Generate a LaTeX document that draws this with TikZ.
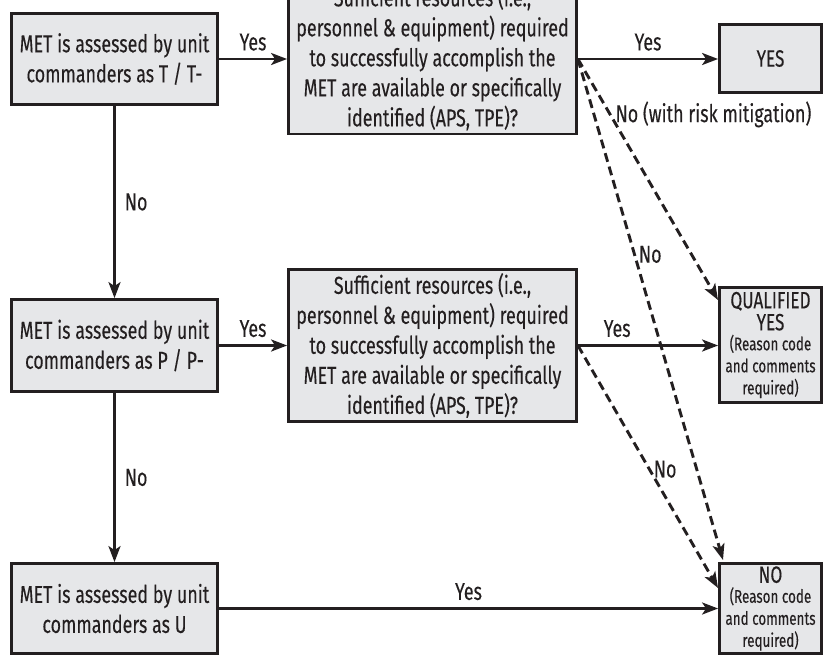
\documentclass[tikz,border=0pt]{standalone}
\usepackage{fontspec}
\setmainfont{Fira Sans}[FakeStretch=0.73, FakeBold=0.2]
\usetikzlibrary{arrows.meta}
\definecolor{boxfill}{HTML}{E6E7E9}
\definecolor{ink}{HTML}{231F20}
\newcommand\rsnfont{\fontsize{18.4}{21}\selectfont}
\tikzset{
  boxstyle/.style={draw=ink, line width=2.8pt, fill=boxfill, inner sep=0pt, align=center, text=ink,
    font=\fontsize{24.5}{30}\selectfont},
  smallbox/.style={boxstyle, font=\fontsize{23.5}{22}\selectfont},
  flowline/.style={draw=ink, line width=2.6pt, -{Stealth[length=16pt,width=12pt,inset=4pt]}},
  dashline/.style={flowline, line width=2.9pt, dash pattern=on 9pt off 5pt},
  lbl/.style={text=ink, inner sep=0pt, font=\fontsize{24.5}{26}\selectfont}
}
\begin{document}
\begin{tikzpicture}[x=1pt,y=-1pt]
\useasboundingbox (0,0) rectangle (837,656);
% left column
\node[boxstyle, minimum width=206pt, minimum height=91pt] (b1) at (114.5,59) {MET is assessed by unit\\commanders as T / T-};
\node[boxstyle, minimum width=206pt, minimum height=92pt] (b2) at (114.5,345.5) {MET is assessed by unit\\commanders as P / P-};
\node[boxstyle, minimum width=206pt, minimum height=90pt] (b3) at (114.5,608.5) {MET is assessed by unit\\commanders as U};
% question boxes
\node[boxstyle, minimum width=288pt, minimum height=152pt] (q1) at (432.5,58) {Sufficient resources (i.e.,\\personnel \& equipment) required\\to successfully accomplish the\\MET are available or specifically\\identified (APS, TPE)?};
\node[boxstyle, minimum width=288pt, minimum height=152pt] (q2) at (432.5,345.5) {Sufficient resources (i.e.,\\personnel \& equipment) required\\to successfully accomplish the\\MET are available or specifically\\identified (APS, TPE)?};
% outcome boxes
\node[smallbox, minimum width=102pt, minimum height=68pt] (yes) at (770.5,58.5) {YES};
\node[smallbox, minimum width=102pt, minimum height=115pt] (qy) at (770.5,345) {QUALIFIED\\YES\\[-2pt]{\rsnfont (Reason code}\\{\rsnfont and comments}\\{\rsnfont required)}};
\node[smallbox, minimum width=102pt, minimum height=90pt] (no) at (770.5,608.5) {NO\\[-2pt]{\rsnfont (Reason code}\\{\rsnfont and comments}\\{\rsnfont required)}};
% coordinates for dashed ends
\coordinate (q1e) at (q1.east |- b1.east);
\coordinate (q2e) at (q2.east |- b2.east);
\coordinate (qyin) at (718,300);
\coordinate (notop) at (723,560);
\coordinate (noleft) at (718,588);
% solid connectors
\draw[flowline] (b1.east) -- node[lbl, above=7pt] (l1) {Yes} (q1.west |- b1.east);
\draw[flowline] (q1e) -- node[lbl, above=7pt] (l2) {Yes} (yes.west |- q1e);
\draw[flowline] (b1.south) -- node[lbl, right=9pt] (l3) {No} (b2.north);
\draw[flowline] (b2.east) -- node[lbl, above=7pt] (l4) {Yes} (q2.west |- b2.east);
\draw[flowline] (q2e) -- node[lbl, above=7pt, pos=0.28] (l5) {Yes} (qy.west |- q2e);
\draw[flowline] (b2.south) -- node[lbl, right=9pt] (l6) {No} (b3.north);
\draw[flowline] (b3.east) -- node[lbl, above=7pt] (l7) {Yes} (no.west |- b3.east);
% dashed connectors
\draw[dashline] (q1e) -- node[lbl, right=4pt, pos=0.23] (l8) {No (with risk mitigation)} (qyin);
\draw[dashline] (q1e) -- node[lbl, right=3pt, pos=0.39] (l9) {No} (notop);
\draw[dashline] (q2e) -- node[lbl, right=3pt, pos=0.51] (l10) {No} (noleft);
\end{tikzpicture}
\end{document}
